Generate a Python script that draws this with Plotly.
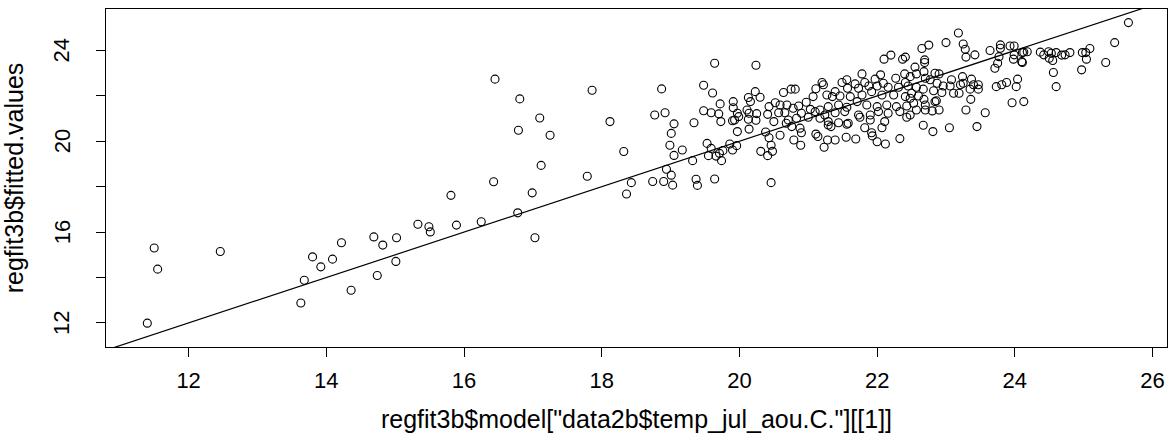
import plotly.graph_objects as go

# Observed July-August temperature (x) vs fitted values (y)
temp_obs = [
    11.40, 11.50, 11.55, 12.46, 13.63, 13.68, 13.80, 13.92, 14.09, 14.22, 14.36, 14.69, 14.74, 14.82, 15.02, 15.01,
    15.33, 15.49, 15.51, 15.81, 15.89, 16.25, 16.43, 16.45, 16.78, 16.81, 16.79, 16.99, 17.03, 17.10, 17.12, 17.25,
    17.79, 17.86, 18.12, 18.32, 18.36, 18.43, 18.74, 18.87, 18.77, 18.92, 19.05, 19.01, 18.99, 19.05, 19.17, 18.94,
    19.01, 18.90, 19.03,
    19.64, 20.24, 19.48, 19.61, 20.23, 20.13, 20.16, 20.30, 20.64, 20.75, 19.91, 19.72, 19.91, 19.48, 19.59, 19.70,
    19.73, 19.34, 19.97, 19.99, 19.90, 19.93, 20.11, 20.14, 20.13, 20.25, 20.24, 19.97, 20.14, 20.43, 20.52, 20.59,
    20.41, 20.57, 20.69, 20.66, 20.50, 20.68, 20.71, 20.78, 20.76, 20.38, 20.43, 20.59, 20.79, 20.46, 20.31, 20.48,
    20.41, 19.53, 19.59, 19.86, 19.96, 19.90, 19.76, 19.71, 19.66, 19.55, 19.74, 19.32, 19.37, 19.39, 19.64, 20.46,
    22.10, 22.20, 22.37, 22.41, 21.78, 22.05, 22.40, 21.49, 21.56, 21.68, 21.82, 21.97, 22.09, 22.27, 22.41, 21.20,
    21.22, 21.11, 21.39, 21.27, 21.57, 21.73, 21.88, 22.00, 22.16, 22.31, 22.45, 21.35, 21.46, 21.61, 21.78, 21.92,
    22.07, 22.24, 22.41, 21.07, 20.97, 20.81, 20.86, 21.03, 21.17, 21.29, 21.44, 21.56, 21.71, 21.85, 22.00, 22.14,
    22.28, 22.43, 20.90, 21.10, 21.24, 21.39, 21.53, 21.73, 21.90, 22.02, 22.16, 22.33, 20.83, 21.00, 21.17, 21.29,
    21.44, 21.58, 21.75, 21.90, 22.11, 22.43, 20.88, 21.29, 21.33, 21.56, 21.82, 22.07, 20.90, 21.11, 21.14, 21.28,
    21.39, 21.55, 21.69, 21.92, 21.93, 22.00, 22.12, 22.33, 20.89, 21.23,
    23.18, 22.65, 22.75, 23.00, 23.25, 23.28, 23.42, 23.29, 23.64, 23.79, 23.79, 23.93, 23.99, 24.11, 23.99, 23.98,
    23.77, 23.75, 23.71, 24.10, 22.69, 22.69, 22.55, 22.68, 22.84, 22.90, 22.57, 22.48, 22.70, 22.77, 22.87, 23.08,
    23.24, 23.37, 23.25, 23.21, 23.40, 23.35, 23.47, 23.47, 23.06, 22.96, 22.57, 22.67, 22.82, 22.94, 23.11, 23.19,
    22.50, 22.60, 22.68, 22.86, 22.48, 22.53, 22.70, 22.84, 23.36, 23.73, 23.81, 23.88, 24.04, 24.02, 22.70, 22.80,
    22.90, 22.57, 23.29, 23.57, 23.96, 24.13, 22.67, 22.81, 23.05, 23.45, 22.48,
    25.65, 25.45, 24.13, 24.18, 24.11, 24.37, 24.42, 24.49, 24.53, 24.60, 24.55, 24.50, 24.68, 24.73, 24.80, 24.98,
    25.03, 25.09, 25.04, 24.97, 25.32, 24.56, 24.60,
]

fitted_vals = [
    11.99, 15.30, 14.37, 15.15, 12.88, 13.88, 14.91, 14.47, 14.81, 15.53, 13.44, 15.79, 14.09, 15.43, 15.75, 14.71,
    16.35, 16.24, 16.01, 17.62, 16.31, 16.46, 18.22, 22.74, 16.85, 21.87, 20.49, 17.73, 15.75, 21.03, 18.94, 20.27,
    18.46, 22.25, 20.87, 19.55, 17.68, 18.18, 18.23, 22.31, 21.16, 21.26, 20.77, 20.35, 19.83, 19.38, 19.62, 18.77,
    18.51, 18.23, 18.07,
    23.44, 23.35, 22.47, 22.13, 22.19, 21.93, 21.75, 21.94, 22.15, 22.30, 21.75, 21.65, 21.48, 21.35, 21.26, 21.21,
    20.87, 20.82, 21.24, 21.09, 20.91, 20.94, 21.38, 21.24, 20.97, 21.22, 20.93, 20.43, 20.54, 21.53, 21.70, 21.60,
    21.19, 21.26, 21.60, 21.26, 20.87, 20.80, 20.94, 21.46, 20.65, 20.41, 20.16, 20.27, 20.06, 19.83, 19.56, 19.56,
    19.37, 19.91, 19.69, 19.88, 19.81, 19.62, 19.59, 19.47, 19.35, 19.37, 19.15, 19.15, 18.33, 18.06, 18.34, 18.18,
    23.62, 23.80, 23.62, 23.71, 22.97, 22.93, 22.97, 22.59, 22.71, 22.53, 22.59, 22.74, 22.56, 22.78, 22.59, 22.59,
    22.49, 22.32, 22.19, 22.04, 22.34, 22.34, 22.44, 22.44, 22.38, 22.38, 22.44, 21.97, 22.00, 21.97, 22.04, 22.19,
    22.04, 22.04, 21.97, 21.97, 21.72, 22.30, 21.56, 21.41, 21.38, 21.53, 21.60, 21.50, 21.75, 21.60, 21.53, 21.60,
    21.53, 21.56, 21.24, 21.31, 21.16, 21.26, 21.31, 21.16, 21.16, 21.31, 21.24, 21.31, 21.02, 21.06, 21.02, 20.87,
    20.82, 20.80, 21.06, 20.94, 20.87, 21.06, 20.58, 20.72, 20.65, 20.75, 20.60, 20.60, 20.38, 20.32, 20.21, 20.06,
    20.06, 20.18, 20.10, 20.38, 20.24, 19.98, 19.88, 20.12, 19.83, 19.74,
    24.77, 24.09, 24.24, 24.35, 24.29, 24.06, 23.81, 23.71, 24.00, 24.25, 24.10, 24.20, 24.20, 23.91, 23.81, 23.62,
    23.73, 23.44, 23.22, 23.51, 23.59, 23.47, 23.27, 23.07, 23.00, 22.97, 22.97, 22.85, 22.78, 22.71, 22.56, 22.71,
    22.85, 22.74, 22.56, 22.49, 22.49, 22.30, 22.49, 22.30, 22.44, 22.44, 22.38, 22.30, 22.23, 22.15, 22.12, 22.12,
    22.12, 22.00, 21.85, 21.79, 21.90, 21.68, 21.60, 21.75, 21.85, 22.41, 22.49, 22.59, 22.74, 22.41, 21.38, 21.34,
    21.38, 21.38, 21.38, 21.26, 21.70, 21.75, 20.71, 20.43, 20.60, 20.65, 21.16,
    25.23, 24.35, 23.93, 23.95, 23.47, 23.93, 23.81, 23.95, 23.88, 23.91, 23.56, 23.66, 23.80, 23.81, 23.91, 23.91,
    23.91, 24.09, 23.62, 23.15, 23.47, 23.03, 22.41,
]

x_ticks = [12, 14, 16, 18, 20, 22, 24, 26]
y_ticks = [12, 14, 16, 18, 20, 22, 24]
y_labels = [12, 16, 20, 24]

x_range = [10.80, 26.21]
y_range = [10.94, 25.83]
ab_intercept, ab_slope = 0.0, 1.0

FONT = "Liberation Sans, Arial, Helvetica, sans-serif"

fig = go.Figure()
fig.add_trace(go.Scatter(
    x=temp_obs, y=fitted_vals, mode="markers",
    marker=dict(symbol="circle-open", size=8, color="black", line=dict(width=1.1, color="black")),
    showlegend=False, hoverinfo="x+y",
))
line_x = [x_range[0] - 1, x_range[1] + 1]
fig.add_trace(go.Scatter(
    x=line_x, y=[ab_intercept + ab_slope * v for v in line_x], mode="lines",
    line=dict(color="black", width=1.2), showlegend=False, hoverinfo="skip",
))

# y tick labels, written parallel to the axis as R does
for v in y_labels:
    fig.add_annotation(x=0, xref="paper", y=v, yref="y", text=str(v), showarrow=False,
                       textangle=-90, xanchor="center", yanchor="middle", xshift=-44,
                       font=dict(family=FONT, size=22, color="black"))

axis_common = dict(
    showline=True, linecolor="black", linewidth=1, mirror=True,
    showgrid=False, zeroline=False, ticks="outside", ticklen=9, tickwidth=1, tickcolor="black",
    tickfont=dict(family=FONT, size=22, color="black"),
)
fig.update_layout(
    width=1171, height=437,
    margin=dict(l=106, r=4, t=9, b=90),
    paper_bgcolor="white", plot_bgcolor="white",
    font=dict(family=FONT, size=22, color="black"),
    xaxis=dict(range=x_range, tickvals=x_ticks, ticktext=[str(v) for v in x_ticks],
               ticklabelstandoff=5,
               title=dict(text='regfit3b$model["data2b$temp_jul_aou.C."][[1]]', standoff=18,
                          font=dict(family=FONT, size=25)), **axis_common),
    yaxis=dict(range=y_range, tickvals=y_ticks, showticklabels=False,
               title=dict(text="regfit3b$fitted.values", standoff=66,
                          font=dict(family=FONT, size=25)), **axis_common),
)
fig.write_html("out.html")
